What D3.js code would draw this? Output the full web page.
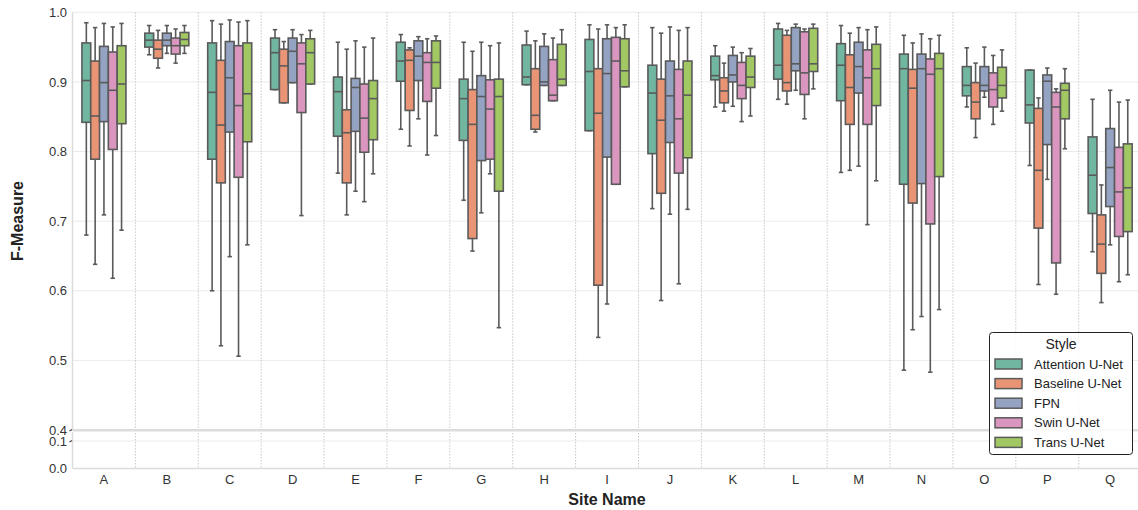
<!DOCTYPE html>
<html><head><meta charset="utf-8">
<script src="https://cdn.jsdelivr.net/npm/d3@7"></script>
<style>body{margin:0;background:#fff;} svg{display:block;font-family:"Liberation Sans",Arial,sans-serif;}</style>
</head><body>
<svg id="c" width="1138" height="510"></svg>
<script>
const categories = ["A","B","C","D","E","F","G","H","I","J","K","L","M","N","O","P","Q"];
const seriesNames = ["Attention U-Net","Baseline U-Net","FPN","Swin U-Net","Trans U-Net"];
const seriesColors = ["#71b6a0","#e99575","#95a3c3","#db96c0","#a2c864"];
// each entry: [lower whisker, Q1, median, Q3, upper whisker]
const attentionUNet = [
 [0.680,0.842,0.902,0.956,0.985],[0.939,0.950,0.960,0.970,0.981],[0.600,0.789,0.885,0.956,0.988],
 [0.889,0.889,0.942,0.963,0.975],[0.769,0.822,0.886,0.907,0.957],[0.832,0.901,0.930,0.957,0.968],
 [0.730,0.816,0.876,0.904,0.957],[0.896,0.896,0.907,0.953,0.973],[0.830,0.830,0.915,0.961,0.982],
 [0.718,0.797,0.884,0.924,0.978],[0.864,0.903,0.909,0.937,0.952],[0.875,0.904,0.924,0.976,0.984],
 [0.770,0.873,0.924,0.955,0.981],[0.486,0.753,0.919,0.940,0.967],[0.864,0.880,0.895,0.922,0.949],
 [0.780,0.841,0.867,0.917,0.917],[0.656,0.711,0.766,0.821,0.875]];
const baselineUNet = [
 [0.638,0.789,0.851,0.930,0.978],[0.920,0.934,0.947,0.960,0.974],[0.521,0.755,0.838,0.931,0.983],
 [0.870,0.870,0.923,0.947,0.958],[0.709,0.755,0.827,0.860,0.947],[0.808,0.859,0.931,0.946,0.949],
 [0.657,0.675,0.839,0.889,0.944],[0.828,0.832,0.852,0.919,0.959],[0.533,0.608,0.855,0.919,0.976],
 [0.586,0.740,0.845,0.904,0.970],[0.858,0.870,0.887,0.906,0.927],[0.868,0.887,0.899,0.967,0.974],
 [0.773,0.839,0.892,0.939,0.970],[0.544,0.726,0.891,0.918,0.956],[0.820,0.847,0.871,0.899,0.927],
 [0.609,0.690,0.773,0.862,0.877],[0.583,0.625,0.667,0.709,0.752]];
const fpn = [
 [0.709,0.843,0.899,0.951,0.984],[0.941,0.952,0.960,0.970,0.981],[0.649,0.828,0.906,0.958,0.989],
 [0.899,0.899,0.944,0.963,0.975],[0.743,0.829,0.892,0.905,0.959],[0.847,0.902,0.937,0.959,0.965],
 [0.712,0.787,0.879,0.909,0.957],[0.895,0.895,0.900,0.951,0.969],[0.581,0.792,0.912,0.962,0.982],
 [0.710,0.813,0.880,0.930,0.979],[0.865,0.900,0.910,0.938,0.950],[0.888,0.916,0.926,0.978,0.983],
 [0.779,0.884,0.922,0.957,0.978],[0.563,0.754,0.919,0.940,0.969],[0.878,0.887,0.895,0.922,0.950],
 [0.760,0.810,0.901,0.910,0.920],[0.666,0.721,0.777,0.833,0.888]];
const swinUNet = [
 [0.618,0.803,0.888,0.943,0.979],[0.927,0.940,0.952,0.963,0.976],[0.506,0.763,0.866,0.952,0.986],
 [0.708,0.856,0.926,0.956,0.968],[0.728,0.799,0.848,0.897,0.950],[0.795,0.872,0.928,0.942,0.962],
 [0.768,0.789,0.861,0.903,0.952],[0.873,0.873,0.881,0.932,0.963],[0.753,0.753,0.930,0.964,0.978],
 [0.610,0.769,0.847,0.918,0.974],[0.843,0.876,0.895,0.928,0.942],[0.847,0.882,0.913,0.972,0.976],
 [0.695,0.839,0.906,0.946,0.975],[0.483,0.696,0.911,0.933,0.962],[0.839,0.864,0.889,0.913,0.938],
 [0.595,0.640,0.864,0.885,0.890],[0.613,0.678,0.742,0.806,0.871]];
const transUNet = [
 [0.687,0.840,0.897,0.952,0.984],[0.941,0.952,0.961,0.971,0.981],[0.666,0.814,0.883,0.956,0.988],
 [0.897,0.897,0.942,0.962,0.974],[0.768,0.817,0.876,0.902,0.963],[0.823,0.891,0.928,0.959,0.966],
 [0.547,0.743,0.879,0.904,0.956],[0.895,0.895,0.904,0.954,0.975],[0.893,0.893,0.916,0.962,0.982],
 [0.717,0.791,0.881,0.930,0.978],[0.851,0.892,0.907,0.937,0.948],[0.890,0.915,0.926,0.977,0.983],
 [0.758,0.866,0.919,0.954,0.979],[0.573,0.764,0.919,0.941,0.967],[0.858,0.877,0.895,0.921,0.946],
 [0.804,0.847,0.888,0.898,0.919],[0.623,0.685,0.748,0.811,0.874]];
const upperTicks = [0.4,0.5,0.6,0.7,0.8,0.9,1.0];
const lowerTicks = [0.0,0.1];

const allSeries = [attentionUNet, baselineUNet, fpn, swinUNet, transUNet];
const svg = d3.select("#c");
const left = 72.5, right = 1141.6;
const x = d3.scaleBand().domain(categories).range([left, right]).padding(0);
const yU = d3.scaleLinear().domain([0.4, 1.0]).range([430, 12.3]);
const yL = d3.scaleLinear().domain([0.0, 0.1]).range([468.3, 441]);
const inner = d3.scaleBand().domain(seriesNames).range([0, x.bandwidth()*0.7]);
const gridC = "#ebebeb", spineC = "#dcdcdc", txtC = "#333", edge = "#5a5a5a";

// gridlines
svg.append("g").selectAll("line").data(upperTicks).join("line")
  .attr("x1", left).attr("x2", 1138).attr("y1", d=>yU(d)).attr("y2", d=>yU(d))
  .attr("stroke", gridC).attr("stroke-width", 1);
svg.append("g").selectAll("line").data(lowerTicks.filter(d=>d>0)).join("line")
  .attr("x1", left).attr("x2", 1138).attr("y1", d=>yL(d)).attr("y2", d=>yL(d))
  .attr("stroke", gridC).attr("stroke-width", 1);
// vertical dotted separators
const seps = categories.slice(1);
svg.append("g").selectAll("line").data(seps).join("line")
  .attr("x1", d=>x(d)).attr("x2", d=>x(d)).attr("y1", 12.3).attr("y2", 429)
  .attr("stroke", "#c8c8c8").attr("stroke-width", 1).attr("stroke-dasharray", "1.5,1.5");
svg.append("g").selectAll("line").data(seps).join("line")
  .attr("x1", d=>x(d)).attr("x2", d=>x(d)).attr("y1", 433).attr("y2", 468)
  .attr("stroke", "#c8c8c8").attr("stroke-width", 1).attr("stroke-dasharray", "1.5,1.5");

// spines
svg.append("line").attr("x1", left).attr("x2", left).attr("y1", 12.3).attr("y2", 430).attr("stroke", spineC).attr("stroke-width", 1.5);
svg.append("line").attr("x1", left).attr("x2", left).attr("y1", 432).attr("y2", 468.3).attr("stroke", spineC).attr("stroke-width", 1.5);
svg.append("line").attr("x1", left).attr("x2", 1138).attr("y1", 430.3).attr("y2", 430.3).attr("stroke", spineC).attr("stroke-width", 2.6);
svg.append("line").attr("x1", left).attr("x2", 1138).attr("y1", 468.6).attr("y2", 468.6).attr("stroke", spineC).attr("stroke-width", 1.5);
// break marks
[[yU(0.4)],[yL(0.1)]].forEach(([yy])=>{
  svg.append("line").attr("x1", left-3).attr("x2", left-0.5).attr("y1", yy+1).attr("y2", yy-0.5).attr("stroke", "#444").attr("stroke-width", 1.2);
});

// y tick labels
svg.append("g").selectAll("text").data(upperTicks).join("text")
  .attr("x", 67).attr("y", d=>yU(d)).attr("dy", "0.36em").attr("text-anchor", "end")
  .attr("font-size", 13).attr("fill", txtC).text(d=>d.toFixed(1));
svg.append("g").selectAll("text").data(lowerTicks).join("text")
  .attr("x", 67).attr("y", d=>yL(d)).attr("dy", "0.36em").attr("text-anchor", "end")
  .attr("font-size", 13).attr("fill", txtC).text(d=>d.toFixed(1));
// x tick labels
svg.append("g").selectAll("text").data(categories).join("text")
  .attr("x", d=>x(d)+x.bandwidth()/2).attr("y", 484).attr("text-anchor", "middle")
  .attr("font-size", 13).attr("fill", txtC).text(d=>d);

// axis titles
svg.append("text").attr("transform", "translate(23,221) rotate(-90)").attr("text-anchor", "middle")
  .attr("font-size", 16).attr("font-weight", "bold").attr("fill", "#222").text("F-Measure");
svg.append("text").attr("x", 607).attr("y", 505).attr("text-anchor", "middle")
  .attr("font-size", 16).attr("font-weight", "bold").attr("fill", "#222").text("Site Name");

// boxes
const gBoxes = svg.append("g");
allSeries.forEach((ser, si) => {
  ser.forEach((v, ci) => {
    const cat = categories[ci];
    const x0 = x(cat) + x.bandwidth()*0.15 + inner(seriesNames[si]);
    const w = inner.bandwidth();
    const cx = x0 + w/2;
    const [lo, q1, med, q3, hi] = v;
    const g = gBoxes.append("g");
    g.append("line").attr("x1", cx).attr("x2", cx).attr("y1", yU(hi)).attr("y2", yU(q3)).attr("stroke", edge).attr("stroke-width", 1.6);
    g.append("line").attr("x1", cx).attr("x2", cx).attr("y1", yU(q1)).attr("y2", yU(lo)).attr("stroke", edge).attr("stroke-width", 1.6);
    g.append("line").attr("x1", cx-w/4).attr("x2", cx+w/4).attr("y1", yU(hi)).attr("y2", yU(hi)).attr("stroke", edge).attr("stroke-width", 1.6);
    g.append("line").attr("x1", cx-w/4).attr("x2", cx+w/4).attr("y1", yU(lo)).attr("y2", yU(lo)).attr("stroke", edge).attr("stroke-width", 1.6);
    g.append("rect").attr("x", x0).attr("width", w).attr("y", yU(q3)).attr("height", yU(q1)-yU(q3))
      .attr("fill", seriesColors[si]).attr("stroke", edge).attr("stroke-width", 1.6);
    g.append("line").attr("x1", x0).attr("x2", x0+w).attr("y1", yU(med)).attr("y2", yU(med)).attr("stroke", edge).attr("stroke-width", 1.6);
  });
});

// legend
const lg = svg.append("g");
lg.append("rect").attr("x", 989.5).attr("y", 332.5).attr("width", 143).attr("height", 122).attr("rx", 3)
  .attr("fill", "#fff").attr("fill-opacity", 0.85).attr("stroke", "#222").attr("stroke-width", 1);
lg.append("text").attr("x", 1061).attr("y", 349).attr("text-anchor", "middle").attr("font-size", 14).attr("fill", "#222").text("Style");
seriesNames.forEach((n, i) => {
  const yy = 364 + i*19.6;
  lg.append("rect").attr("x", 995).attr("y", yy-5).attr("width", 27).attr("height", 10)
    .attr("fill", seriesColors[i]).attr("stroke", edge).attr("stroke-width", 1.5);
  lg.append("text").attr("x", 1034).attr("y", yy).attr("dy", "0.35em").attr("font-size", 13).attr("fill", "#222").text(n);
});
</script>
</body></html>
